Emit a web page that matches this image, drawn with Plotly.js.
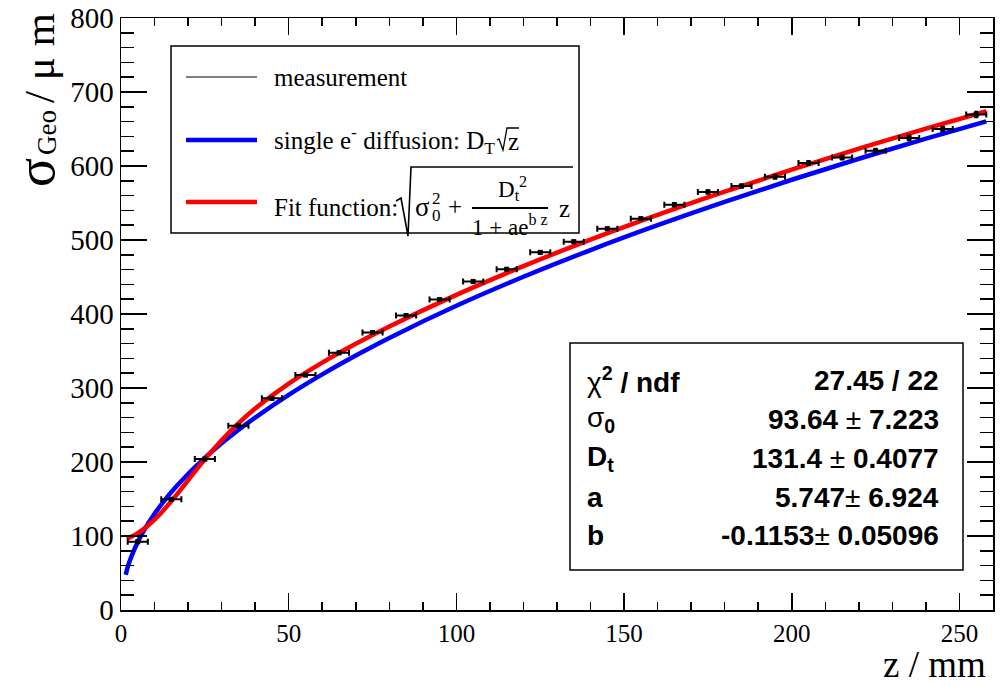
<!DOCTYPE html>
<html>
<head>
<meta charset="utf-8">
<script src="https://cdn.plot.ly/plotly-3.0.1.min.js"></script>
<style>
html,body{margin:0;padding:0;background:#fff;overflow:hidden;}
#chart{width:1003px;height:686px;}
</style>
</head>
<body>
<div id="chart"></div>
<script>
// ---- data ----
const zMeas = [5, 15, 25, 35, 45, 55, 65, 75, 85, 95, 105, 115, 125, 135, 145, 155, 165, 175, 185, 195, 205, 215, 225, 235, 245, 255];
const sigmaMeas = [92.3, 149.6, 204, 249, 286, 317.6, 347.5, 375, 398, 419.5, 444, 460.5, 483.3, 497.7, 515.3, 528.8, 547.7, 564.9, 573, 585.6, 604, 611.5, 620.5, 638, 650, 669.6];
const zErr = [3, 3, 3, 3, 3, 3, 3, 3, 3, 3, 3, 3, 3, 3, 3, 3, 3, 3, 3, 3, 3, 3, 3, 3, 3, 3];
const sigmaErr = [2, 2, 2, 2, 2, 2, 2, 2, 2, 2, 2, 2, 2, 2, 2, 2, 2.5, 2.5, 2.5, 3, 3, 3, 3, 3.5, 3.5, 4];

const zFit = [1.7, 3, 5, 7, 10, 13, 16, 20, 25, 30, 35, 40, 50, 60, 70, 80, 100, 120, 140, 160, 180, 200, 220, 240, 258];
const sigmaFit = [96.3, 98.9, 104.0, 110.3, 122.1, 136.4, 152.5, 175.3, 203.5, 229.4, 252.2, 272.2, 305.9, 334.3, 359.7, 383.2, 425.9, 464.7, 500.5, 533.9, 565.3, 595.1, 623.4, 650.5, 674.0];

const zDiff = [1.4, 2, 3, 5, 7, 10, 13, 16, 20, 25, 30, 35, 40, 50, 60, 70, 80, 100, 120, 140, 160, 180, 200, 220, 240, 258];
const sigmaDiff = [47.5, 58.1, 71.2, 91.9, 108.8, 130.0, 148.2, 164.4, 183.8, 205.5, 225.2, 243.2, 260.0, 290.7, 318.4, 343.9, 367.7, 411.1, 450.3, 486.4, 520.0, 551.5, 581.4, 609.8, 636.9, 660.3];

const xTicks = [0, 50, 100, 150, 200, 250];
const yTicks = [0, 100, 200, 300, 400, 500, 600, 700, 800];

const legendLabels = ["measurement", "single e<sup>-</sup> diffusion: D<sub>T</sub>", "Fit function:"];
const statNames = ["χ<b><sup>2</sup> / ndf</b>", "σ<b><sub>0</sub></b>", "<b>D<sub>t</sub></b>", "<b>a</b>", "<b>b</b>"];
const statValues = ["<b>27.45 / 22</b>", "<b>93.64</b> ± <b>7.223</b>", "<b>131.4</b> ± <b>0.4077</b>", "<b>5.747</b>± <b>6.924</b>", "<b>-0.1153</b>± <b>0.05096</b>"];

// ---- layout helpers (pixel -> paper) ----
const W = 1003, H = 686, ML = 121, MR = 10, MT = 18, MB = 76;
const PW = W - ML - MR, PH = H - MT - MB;
const px = x => (x - ML) / PW;
const py = y => (H - MB - y) / PH;

const SERIF = 'Liberation Serif';
const SANS = 'Liberation Sans';

const traces = [
  {
    x: zDiff, y: sigmaDiff, type: 'scatter', mode: 'lines',
    line: {color: '#0000ff', width: 4.5, shape: 'spline'}, hoverinfo: 'skip'
  },
  {
    x: zFit, y: sigmaFit, type: 'scatter', mode: 'lines',
    line: {color: '#ff0000', width: 4.5, shape: 'spline'}, hoverinfo: 'skip'
  },
  {
    x: zMeas, y: sigmaMeas, type: 'scatter', mode: 'markers',
    marker: {symbol: 'square', size: 5, color: 'black'},
    error_x: {type: 'data', array: zErr, color: 'black', thickness: 2, width: 3},
    error_y: {type: 'data', array: sigmaErr, color: 'black', thickness: 1.5, width: 2}
  }
];

const shapes = [
  // legend box
  {type: 'rect', xref: 'paper', yref: 'paper', x0: px(171), x1: px(579), y0: py(46), y1: py(233),
   line: {color: 'black', width: 1.5}, fillcolor: 'white', layer: 'above'},
  {type: 'line', xref: 'paper', yref: 'paper', x0: px(186), x1: px(257), y0: py(77), y1: py(77), line: {color: 'black', width: 1.2}},
  {type: 'line', xref: 'paper', yref: 'paper', x0: px(186), x1: px(257), y0: py(140), y1: py(140), line: {color: '#0000ff', width: 4.5}},
  {type: 'line', xref: 'paper', yref: 'paper', x0: px(186), x1: px(257), y0: py(202), y1: py(202), line: {color: '#ff0000', width: 4.5}},
  // radical of sqrt(z) in legend entry 2
  {type: 'path', xref: 'paper', yref: 'paper',
   path: `M ${px(497)},${py(140)} L ${px(499)},${py(139)} L ${px(503)},${py(150)} L ${px(507)},${py(128)} L ${px(519)},${py(128)}`,
   line: {color: 'black', width: 1.3}},
  // radical sign of the fit formula
  {type: 'path', xref: 'paper', yref: 'paper',
   path: `M ${px(396)},${py(201)} L ${px(401)},${py(198)} L ${px(408)},${py(236)} L ${px(411)},${py(167)} L ${px(573)},${py(167)}`,
   line: {color: 'black', width: 1.6}},
  // fraction bar
  {type: 'line', xref: 'paper', yref: 'paper', x0: px(472), x1: px(548), y0: py(208), y1: py(208), line: {color: 'black', width: 2}},
  // stats box
  {type: 'rect', xref: 'paper', yref: 'paper', x0: px(570), x1: px(963), y0: py(343), y1: py(570),
   line: {color: 'black', width: 1.5}, fillcolor: 'white', layer: 'above'}
];

const annotations = [];
function ann(text, x, y, size, family, xanchor, extra) {
  annotations.push(Object.assign({
    text: text, xref: 'paper', yref: 'paper', x: px(x), y: py(y),
    xanchor: xanchor || 'left', yanchor: 'middle', showarrow: false,
    font: {family: family || SERIF, size: size, color: 'black'}
  }, extra || {}));
}
// legend texts
ann(legendLabels[0], 272, 77, 25);
ann(legendLabels[1], 272, 140, 25);
ann("z", 506, 141, 25);
ann(legendLabels[2], 272, 207, 25);
ann("σ", 413, 207, 27);
ann("2", 430, 199, 17);
ann("0", 430, 216, 17);
ann("+", 446, 206, 25);
ann("D<sub>t</sub><sup>2</sup>", 512, 189, 23, SERIF, 'center');
ann("1 + ae<sup>b z</sup>", 510, 225, 23, SERIF, 'center');
ann("z", 557, 208, 25);
// stats box texts
const rowY = [380, 419, 458, 497, 535];
for (let i = 0; i < 5; i++) {
  ann(statNames[i], 585, rowY[i], 28, SANS, 'left');
  ann(statValues[i], 941, rowY[i], 28, SANS, 'right');
}
// axis titles
ann("z / mm", 988, 664, 37, SERIF, 'right');
ann("/ μ m", 40, 58, 43, SERIF, 'center', {textangle: -90});
ann("Geo", 47, 133, 27, SERIF, 'center', {textangle: -90});
ann("σ", 36, 173, 54, SERIF, 'center', {textangle: -90});

const layout = {
  width: W, height: H,
  margin: {l: ML, r: MR, t: MT, b: MB, pad: 0},
  paper_bgcolor: 'white', plot_bgcolor: 'white',
  font: {family: SERIF, size: 24, color: 'black'},
  showlegend: false,
  xaxis: {
    range: [0, 260], tickvals: xTicks, ticktext: xTicks.map(String),
    ticks: 'inside', ticklen: 17, tickwidth: 1.5, tickcolor: 'black',
    minor: {dtick: 10, tick0: 0, ticks: 'inside', ticklen: 8, tickwidth: 1.5, tickcolor: 'black', showgrid: false},
    showline: true, linecolor: 'black', linewidth: 1.5, mirror: 'ticks',
    showgrid: false, zeroline: false,
    tickfont: {family: SERIF, size: 25, color: 'black'}
  },
  yaxis: {
    range: [0, 800], tickvals: yTicks, ticktext: yTicks.map(String),
    ticks: 'inside', ticklen: 26, tickwidth: 1.5, tickcolor: 'black',
    minor: {dtick: 20, tick0: 0, ticks: 'inside', ticklen: 13, tickwidth: 1.5, tickcolor: 'black', showgrid: false},
    showline: true, linecolor: 'black', linewidth: 1.5, mirror: 'ticks',
    showgrid: false, zeroline: false,
    tickfont: {family: SERIF, size: 29, color: 'black'}
  },
  shapes: shapes,
  annotations: annotations
};

Plotly.newPlot('chart', traces, layout, {staticPlot: true, displayModeBar: false});
</script>
</body>
</html>
